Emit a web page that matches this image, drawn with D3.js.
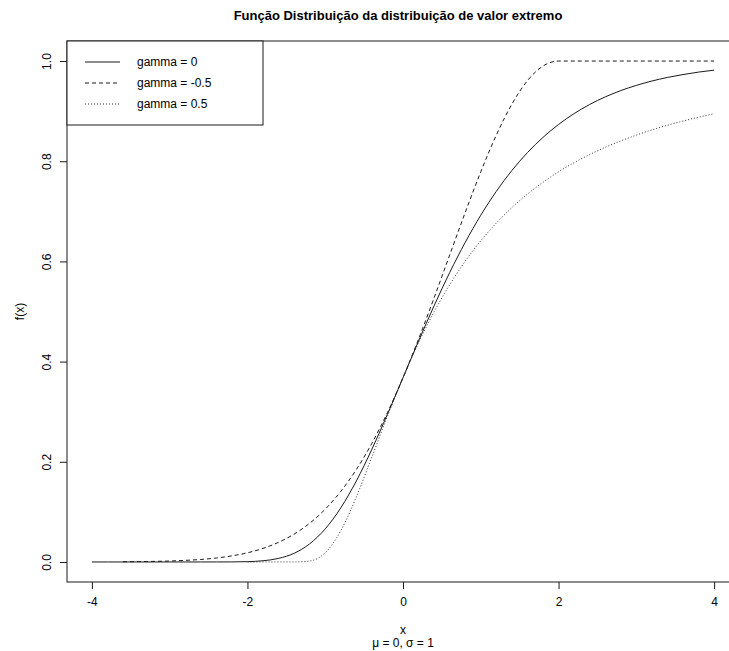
<!DOCTYPE html>
<html>
<head>
<meta charset="utf-8">
<script src="https://cdn.jsdelivr.net/npm/d3@7"></script>
<style>
  html, body { margin: 0; padding: 0; background: #fff; }
  svg { display: block; font-family: "Liberation Sans", Arial, sans-serif; }
</style>
</head>
<body>
<svg id="chart" width="729" height="651"></svg>
<script>
// ---- data ----
const xGumbel = [-4,-3.8,-3.6,-3.4,-3.2,-3,-2.8,-2.6,-2.4,-2.2,-2,-1.8,-1.6,-1.4,-1.2,-1,-0.8,-0.6,-0.4,-0.2,0,0.2,0.4,0.6,0.8,1,1.2,1.4,1.6,1.8,2,2.2,2.4,2.6,2.8,3,3.2,3.4,3.6,3.8,4];
const yGumbel = [0,0,0,0,0,0,0,0,0.00002,0.0001,0.0006,0.0024,0.0071,0.0173,0.0362,0.0660,0.1080,0.1617,0.2250,0.2948,0.3679,0.4410,0.5115,0.5776,0.6380,0.6922,0.7399,0.7814,0.8172,0.8476,0.8734,0.8951,0.9133,0.9284,0.9410,0.9514,0.9601,0.9672,0.9730,0.9779,0.9818];

const xNeg = [-3.6,-3.4,-3.2,-3,-2.8,-2.6,-2.4,-2.2,-2,-1.8,-1.6,-1.4,-1.2,-1,-0.8,-0.6,-0.4,-0.2,0,0.2,0.4,0.6,0.8,1,1.2,1.4,1.6,1.8,2,2.2,2.4,2.6,2.8,3,3.2,3.4,3.6,3.8,4];
const yNeg = [0.0004,0.0007,0.0012,0.0019,0.0032,0.0050,0.0079,0.0122,0.0183,0.0271,0.0392,0.0556,0.0773,0.1054,0.1409,0.1845,0.2369,0.2982,0.3679,0.4449,0.5273,0.6126,0.6977,0.7788,0.8521,0.9139,0.9608,0.9901,1,1,1,1,1,1,1,1,1,1,1];

const xPos = [-2,-1.8,-1.6,-1.4,-1.2,-1,-0.8,-0.6,-0.4,-0.2,0,0.2,0.4,0.6,0.8,1,1.2,1.4,1.6,1.8,2,2.2,2.4,2.6,2.8,3,3.2,3.4,3.6,3.8,4];
const yPos = [0,0,0,0.00002,0.0019,0.0183,0.0622,0.1299,0.2096,0.2910,0.3679,0.4376,0.4994,0.5534,0.6004,0.6412,0.6766,0.7075,0.7344,0.7580,0.7788,0.7971,0.8133,0.8278,0.8406,0.8521,0.8625,0.8718,0.8802,0.8879,0.8948];

const seriesNames = ["gamma = 0", "gamma = -0.5", "gamma = 0.5"];
const xTicks = [-4, -2, 0, 2, 4];
const yTicks = [0.0, 0.2, 0.4, 0.6, 0.8, 1.0];
const titleText = "Função Distribuição da distribuição de valor extremo";
const xLabel = "x";
const subLabel = "μ = 0, σ = 1";
const yLabel = "f(x)";

(function () {
// ---- layout ----
const svg = d3.select("#chart");
const pLeft = 67, pTop = 41, pBottom = 582, pWidth = 672;
const x = d3.scaleLinear().domain([-4.32, 4.32]).range([pLeft, pLeft + pWidth]);
const y = d3.scaleLinear().domain([-0.04, 1.04]).range([pBottom, pTop]);

const ink = "#1a1a1a";

// title
svg.append("text")
  .attr("x", 398).attr("y", 20)
  .attr("text-anchor", "middle")
  .style("font-size", "13px").style("font-weight", "bold")
  .attr("fill", "#000")
  .text(titleText);

// axes
const xAxis = svg.append("g")
  .attr("transform", `translate(0,${pBottom})`)
  .call(d3.axisBottom(x).tickValues(xTicks).tickSize(7).tickPadding(8)
        .tickFormat(d3.format("d")));
xAxis.select(".domain").remove();
xAxis.selectAll("line").attr("stroke", ink);
xAxis.selectAll("text").style("font-size", "12px").attr("fill", "#000")
  .style("font-family", "'Liberation Sans', Arial, sans-serif")
  .text(d => d < 0 ? "-" + Math.abs(d) : String(d));

const yAxis = svg.append("g")
  .attr("transform", `translate(${pLeft},0)`)
  .call(d3.axisLeft(y).tickValues(yTicks).tickSize(7).tickFormat(d3.format(".1f")));
yAxis.select(".domain").remove();
yAxis.selectAll("line").attr("stroke", ink);
yAxis.selectAll("text")
  .style("font-size", "12px").attr("fill", "#000")
  .style("font-family", "'Liberation Sans', Arial, sans-serif")
  .attr("transform", "rotate(-90)")
  .attr("x", 0).attr("y", -20).attr("dy", null)
  .attr("text-anchor", "middle")
  .attr("dominant-baseline", "central");

// plot box
svg.append("rect")
  .attr("x", pLeft).attr("y", pTop)
  .attr("width", pWidth).attr("height", pBottom - pTop)
  .attr("fill", "none").attr("stroke", ink).attr("stroke-width", 1);

// axis labels
svg.append("text").attr("x", 403).attr("y", 634).attr("text-anchor", "middle")
  .style("font-size", "12px").text(xLabel);
svg.append("text").attr("x", 403).attr("y", 647).attr("text-anchor", "middle")
  .style("font-size", "12px").text(subLabel);
svg.append("text")
  .attr("transform", `translate(20,${(pTop + pBottom) / 2}) rotate(-90)`)
  .attr("text-anchor", "middle").attr("dominant-baseline", "central")
  .style("font-size", "12px").text(yLabel);

// curves
const dashes = [null, "4,3", "1,2"];
const data = [
  d3.zip(xGumbel, yGumbel),
  d3.zip(xNeg, yNeg),
  d3.zip(xPos, yPos)
];
const line = d3.line().x(d => x(d[0])).y(d => y(d[1])).curve(d3.curveMonotoneX);
data.forEach((pts, i) => {
  svg.append("path")
    .attr("d", line(pts))
    .attr("fill", "none")
    .attr("stroke", i === 2 ? "#333" : ink)
    .attr("stroke-width", 1)
    .attr("stroke-dasharray", dashes[i]);
});

// legend
const lg = svg.append("g");
lg.append("rect").attr("x", pLeft).attr("y", pTop).attr("width", 196).attr("height", 84)
  .attr("fill", "#fff").attr("stroke", ink);
seriesNames.forEach((name, i) => {
  const yy = 62 + i * 21;
  lg.append("line").attr("x1", 85).attr("x2", 120).attr("y1", yy).attr("y2", yy)
    .attr("stroke", i === 2 ? "#333" : ink).attr("stroke-dasharray", dashes[i]);
  lg.append("text").attr("x", 137).attr("y", yy).attr("dominant-baseline", "central")
    .style("font-size", "12px").text(name);
});
})();
</script>
</body>
</html>
